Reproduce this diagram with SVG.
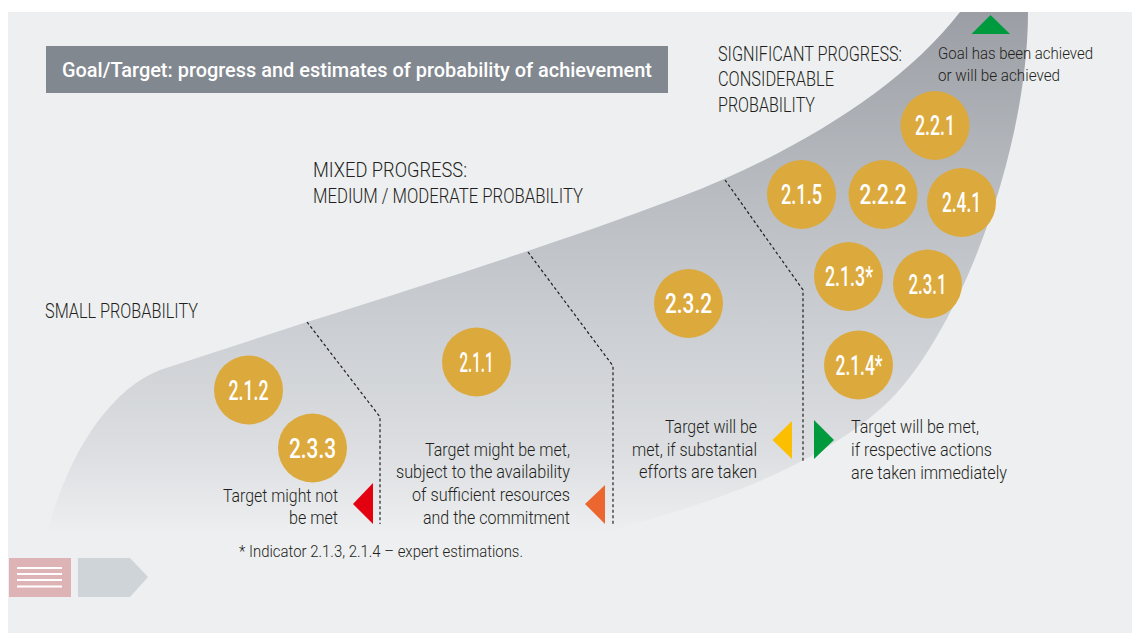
<svg xmlns="http://www.w3.org/2000/svg" width="1132" height="633" viewBox="0 0 1132 633">
<defs>
<linearGradient id="band" gradientUnits="userSpaceOnUse" x1="0" y1="12" x2="0" y2="535">
<stop offset="0" stop-color="#9b9ea4"/>
<stop offset="0.35" stop-color="#b9bcc1"/>
<stop offset="0.6" stop-color="#cbced2"/>
<stop offset="0.85" stop-color="#dddfe2"/>
<stop offset="1" stop-color="#eeeff1"/>
</linearGradient>
<style>
.t{font-family:Roboto,"Liberation Sans",sans-serif;fill:#231f20;font-weight:300}
.b{font-size:18px}
.cap{font-size:20px}
.num{font-family:Roboto,"Liberation Sans",sans-serif;font-size:27px;font-weight:500;fill:#ffffff;text-anchor:middle}
.c{fill:#dca93d}
.dash{fill:none;stroke:#231f20;stroke-width:1.2;stroke-dasharray:3 2.5}
</style>
</defs>
<rect x="0" y="0" width="1132" height="633" fill="#ffffff"/>
<rect x="8" y="12" width="1124" height="621" fill="#eeeff1"/>
<path id="band-shape" d="M47,532 C70,450 110,390 160,370 L307,322 C450,277 560,242 680,197 C790,155 900,90 960,12 L1028,12 C1028,150 960,330 890,400 C850,440 760,495 600,532 Z" fill="url(#band)"/>

<g id="title">
<rect x="46" y="46" width="622" height="47" fill="#828890"/>
<text x="62" y="77" style="font-family:Roboto,'Liberation Sans',sans-serif;font-size:20px;font-weight:500;fill:#ffffff" textLength="590" lengthAdjust="spacingAndGlyphs">Goal/Target: progress and estimates of probability of achievement</text>
</g>

<g id="connectors">
<path class="dash" d="M307,322 L380,417 L380,524"/>
<path class="dash" d="M528,252 L613,366 L613,524"/>
<path class="dash" d="M725,180 L803,290 L803,463"/>
</g>

<g id="label-significant">
<text class="t cap" x="718" y="61" textLength="184" lengthAdjust="spacingAndGlyphs">SIGNIFICANT PROGRESS:</text>
<text class="t cap" x="718" y="86" textLength="116" lengthAdjust="spacingAndGlyphs">CONSIDERABLE</text>
<text class="t cap" x="718" y="112" textLength="97" lengthAdjust="spacingAndGlyphs">PROBABILITY</text>
</g>
<g id="label-mixed">
<text class="t cap" x="313" y="177" textLength="154" lengthAdjust="spacingAndGlyphs">MIXED PROGRESS:</text>
<text class="t cap" x="313" y="203" textLength="270" lengthAdjust="spacingAndGlyphs">MEDIUM / MODERATE PROBABILITY</text>
</g>
<g id="label-small">
<text class="t cap" x="45" y="318" textLength="153" lengthAdjust="spacingAndGlyphs">SMALL PROBABILITY</text>
</g>

<g id="goal-achieved">
<polygon points="990.5,15 971.5,34 1010,34" fill="#009a3e"/>
<text class="t" style="font-size:17px" x="938" y="59" textLength="155" lengthAdjust="spacingAndGlyphs">Goal has been achieved</text>
<text class="t" style="font-size:17px" x="938" y="81" textLength="122" lengthAdjust="spacingAndGlyphs">or will be achieved</text>
</g>

<g id="n-2-1-2"><circle class="c" cx="248.5" cy="390" r="34.5"/><text class="num" x="248.5" y="399.5" textLength="40" lengthAdjust="spacingAndGlyphs">2.1.2</text></g>
<g id="n-2-3-3"><circle class="c" cx="312.5" cy="448" r="34.5"/><text class="num" x="312.5" y="457.5" textLength="47" lengthAdjust="spacingAndGlyphs">2.3.3</text></g>
<g id="n-2-1-1"><circle class="c" cx="476.5" cy="362" r="34.5"/><text class="num" x="476.5" y="371.5" textLength="34" lengthAdjust="spacingAndGlyphs">2.1.1</text></g>
<g id="n-2-3-2"><circle class="c" cx="688.5" cy="303.5" r="34.5"/><text class="num" x="688.5" y="313" textLength="47" lengthAdjust="spacingAndGlyphs">2.3.2</text></g>
<g id="n-2-2-1"><circle class="c" cx="935" cy="125.5" r="34.5"/><text class="num" x="935" y="135" textLength="40" lengthAdjust="spacingAndGlyphs">2.2.1</text></g>
<g id="n-2-1-5"><circle class="c" cx="801.5" cy="194.5" r="34.5"/><text class="num" x="801.5" y="204" textLength="41" lengthAdjust="spacingAndGlyphs">2.1.5</text></g>
<g id="n-2-2-2"><circle class="c" cx="883" cy="194.5" r="34.5"/><text class="num" x="883" y="204" textLength="47" lengthAdjust="spacingAndGlyphs">2.2.2</text></g>
<g id="n-2-4-1"><circle class="c" cx="961.5" cy="202.5" r="34.5"/><text class="num" x="961.5" y="212" textLength="39" lengthAdjust="spacingAndGlyphs">2.4.1</text></g>
<g id="n-2-1-3"><circle class="c" cx="848.5" cy="276.5" r="34.5"/><text class="num" x="849" y="286" textLength="48" lengthAdjust="spacingAndGlyphs">2.1.3*</text></g>
<g id="n-2-3-1"><circle class="c" cx="927.5" cy="284" r="34.5"/><text class="num" x="927.5" y="293.5" textLength="38" lengthAdjust="spacingAndGlyphs">2.3.1</text></g>
<g id="n-2-1-4"><circle class="c" cx="858.5" cy="365" r="34.5"/><text class="num" x="859" y="374.5" textLength="47" lengthAdjust="spacingAndGlyphs">2.1.4*</text></g>

<g id="legend-red">
<polygon points="353,504 373,483 373,524" fill="#e3000f"/>
<text class="t b" x="338" y="502" text-anchor="end" textLength="115" lengthAdjust="spacingAndGlyphs">Target might not</text>
<text class="t b" x="338" y="524" text-anchor="end" textLength="49" lengthAdjust="spacingAndGlyphs">be met</text>
</g>
<g id="legend-orange">
<polygon points="585,504 605,485 605,524" fill="#ec6730"/>
<text class="t b" x="570" y="456" text-anchor="end" textLength="145" lengthAdjust="spacingAndGlyphs">Target might be met,</text>
<text class="t b" x="570" y="478" text-anchor="end" textLength="174" lengthAdjust="spacingAndGlyphs">subject to the availability</text>
<text class="t b" x="570" y="501" text-anchor="end" textLength="158" lengthAdjust="spacingAndGlyphs">of sufficient resources</text>
<text class="t b" x="570" y="524" text-anchor="end" textLength="147" lengthAdjust="spacingAndGlyphs">and the commitment</text>
</g>
<g id="legend-yellow">
<polygon points="772.5,440 792,421 792,459" fill="#fcbf00"/>
<text class="t b" x="757" y="433" text-anchor="end" textLength="92" lengthAdjust="spacingAndGlyphs">Target will be</text>
<text class="t b" x="757" y="456" text-anchor="end" textLength="125" lengthAdjust="spacingAndGlyphs">met, if substantial</text>
<text class="t b" x="757" y="478" text-anchor="end" textLength="118" lengthAdjust="spacingAndGlyphs">efforts are taken</text>
</g>
<g id="legend-green">
<polygon points="814,420 834,440 814,459" fill="#009a3e"/>
<text class="t b" x="851" y="433" textLength="128" lengthAdjust="spacingAndGlyphs">Target will be met,</text>
<text class="t b" x="851" y="456" textLength="141" lengthAdjust="spacingAndGlyphs">if respective actions</text>
<text class="t b" x="851" y="479" textLength="156" lengthAdjust="spacingAndGlyphs">are taken immediately</text>
</g>

<g id="footnote">
<text class="t" style="font-size:17px" x="239" y="557" textLength="284" lengthAdjust="spacingAndGlyphs">* Indicator 2.1.3, 2.1.4 – expert estimations.</text>
</g>

<g id="nav-icons">
<rect x="9" y="558" width="62" height="39" fill="#deb3b5"/>
<g stroke="#ffffff" stroke-width="2">
<line x1="17" y1="568" x2="62" y2="568"/>
<line x1="17" y1="574" x2="62" y2="574"/>
<line x1="17" y1="580" x2="62" y2="580"/>
<line x1="17" y1="586.5" x2="62" y2="586.5"/>
</g>
<polygon points="78,558 130,558 148,577 130,597 78,597" fill="#cfd4d9"/>
</g>
</svg>
